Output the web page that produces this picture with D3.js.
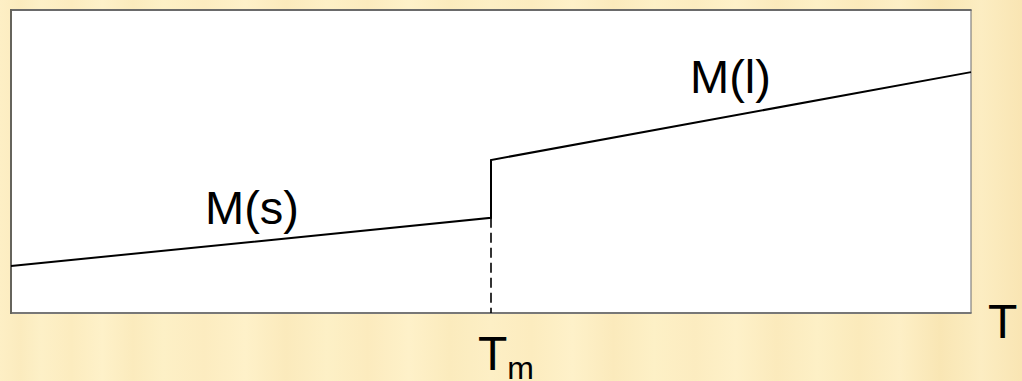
<!DOCTYPE html>
<html>
<head>
<meta charset="utf-8">
<script src="https://cdn.jsdelivr.net/npm/d3@7"></script>
<style>
  html, body { margin: 0; padding: 0; background: #fdf0c6; }
  svg { display: block; }
</style>
</head>
<body>
<svg id="chart" width="1022" height="381"></svg>
<script>
// Molar quantity M versus temperature T: solid branch, melting jump at Tm, liquid branch
const solidT = [0, 0.5];
const solidM = [0.155, 0.314];
const liquidT = [0.5, 1];
const liquidM = [0.505, 0.795];
const meltT = 0.5;
const labels = ["M(s)", "M(l)"];

const W = 1022, H = 381;
const plot = { left: 11, top: 10, right: 971, bottom: 313 };

const svg = d3.select("#chart");

// paper-like background with soft vertical grain
const defs = svg.append("defs");
const grad = defs.append("linearGradient").attr("id", "grain").attr("x1", "0").attr("x2", "1").attr("y1", "0").attr("y2", "0");
const grainStops = [
  [0.00, "#fdefc5"], [0.02, "#fbebbe"], [0.04, "#fdf0c7"], [0.07, "#fcecbf"], [0.10, "#fef1c9"],
  [0.13, "#fbebbd"], [0.16, "#fdf0c6"], [0.20, "#fcecc0"], [0.24, "#fef1c9"], [0.28, "#fbeabc"],
  [0.32, "#fdf0c6"], [0.36, "#fcebbe"], [0.40, "#fef1c9"], [0.44, "#fbebbd"], [0.48, "#fdefc5"],
  [0.52, "#fcecbf"], [0.56, "#fef1c9"], [0.60, "#fbeabc"], [0.64, "#fdf0c6"], [0.68, "#fcecc0"],
  [0.72, "#fef1c9"], [0.76, "#fbeabc"], [0.80, "#fdf0c6"], [0.84, "#fbeabb"], [0.88, "#fdefc6"],
  [0.92, "#f9e6b4"], [0.96, "#fcedc2"], [1.00, "#f9e5b3"]
];
grad.selectAll("stop").data(grainStops).join("stop")
  .attr("offset", d => d[0]).attr("stop-color", d => d[1]);
svg.append("rect").attr("width", W).attr("height", H).attr("fill", "url(#grain)");

const x = d3.scaleLinear().domain([0, 1]).range([plot.left, plot.right]);
const y = d3.scaleLinear().domain([0, 1]).range([plot.bottom, plot.top]);

// plot area
svg.append("rect")
  .attr("x", plot.left).attr("y", plot.top)
  .attr("width", plot.right - plot.left).attr("height", plot.bottom - plot.top)
  .attr("fill", "#ffffff");

// frame: heavier on the left, top and bottom
const frame = svg.append("g").attr("fill", "none");
frame.append("line").attr("x1", plot.right).attr("x2", plot.right).attr("y1", plot.top).attr("y2", plot.bottom)
  .attr("stroke", "#808080").attr("stroke-width", 1.2);
frame.append("line").attr("x1", plot.left).attr("x2", plot.right + 0.6).attr("y1", plot.bottom).attr("y2", plot.bottom)
  .attr("stroke", "#777777").attr("stroke-width", 2);
frame.append("line").attr("x1", plot.left).attr("x2", plot.right + 0.6).attr("y1", plot.top).attr("y2", plot.top)
  .attr("stroke", "#6a6a6a").attr("stroke-width", 2);
frame.append("line").attr("x1", plot.left).attr("x2", plot.left).attr("y1", plot.top - 1).attr("y2", plot.bottom + 1)
  .attr("stroke", "#66645c").attr("stroke-width", 2);

const line = d3.line().x(d => x(d[0])).y(d => y(d[1]));
const solid = d3.zip(solidT, solidM);
const liquid = d3.zip(liquidT, liquidM);

// continuous curve: solid branch, vertical jump at Tm, liquid branch
svg.append("path")
  .datum(solid.concat(liquid))
  .attr("d", line)
  .attr("fill", "none").attr("stroke", "#000").attr("stroke-width", 2)
  .attr("stroke-linejoin", "miter");

// dashed drop from the melting point to the T axis
svg.append("line")
  .attr("x1", x(meltT)).attr("x2", x(meltT))
  .attr("y1", y(solidM[1])).attr("y2", plot.bottom)
  .attr("stroke", "#000").attr("stroke-width", 1.6)
  .attr("stroke-dasharray", "10,5");

const font = "Liberation Sans, Arial, sans-serif";

svg.append("text").attr("x", 205).attr("y", 224)
  .attr("font-family", font).attr("font-size", 47).text(labels[0]);
svg.append("text").attr("x", 690).attr("y", 93)
  .attr("font-family", font).attr("font-size", 47).text(labels[1]);

// axis label
svg.append("text").attr("x", 988).attr("y", 338)
  .attr("font-family", font).attr("font-size", 48).text("T");

// melting temperature label
const tm = svg.append("text").attr("x", x(meltT) - 13).attr("y", 370)
  .attr("font-family", font).attr("font-size", 48);
tm.append("tspan").text("T");
tm.append("tspan").attr("dy", 9).attr("font-size", 32).text("m");
</script>
</body>
</html>
